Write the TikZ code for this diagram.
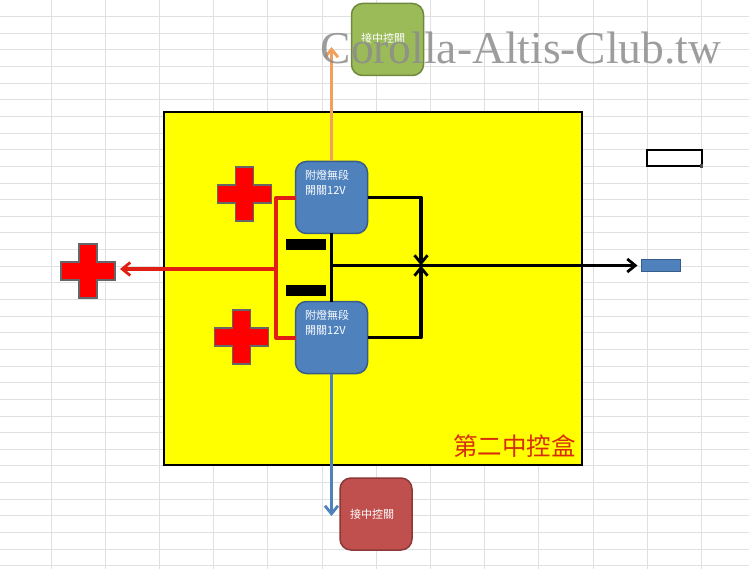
\documentclass[tikz,border=0pt]{standalone}
\usepackage{fontspec}
\setmainfont{Liberation Serif}
\newfontfamily\cjk{Noto Sans CJK TC}
\usetikzlibrary{arrows.meta}
\definecolor{sheet}{RGB}{222, 224, 226}
\definecolor{casefill}{RGB}{255, 255, 0}
\definecolor{plusred}{RGB}{255, 0, 0}
\definecolor{boxblue}{RGB}{79, 129, 189}
\definecolor{boxedge}{RGB}{56, 93, 138}
\definecolor{boxgreen}{RGB}{155, 187, 89}
\definecolor{greenedge}{RGB}{113, 137, 63}
\definecolor{boxred}{RGB}{192, 80, 77}
\definecolor{rededge}{RGB}{140, 56, 54}
\definecolor{wireorange}{RGB}{240, 160, 90}
\definecolor{wirered}{RGB}{225, 30, 20}
\definecolor{titlered}{RGB}{215, 45, 10}
\tikzset{
  switchbox/.style={draw, line width=1.5pt, rounded corners=11pt, minimum width=72pt, minimum height=72pt, outer sep=0pt},
  lampbox/.style={switchbox, draw=boxedge, fill=boxblue},
  boxtext/.style={inner sep=0pt, align=left, text=white, font=\cjk\fontsize{11}{15}\selectfont},
  wire/.style={line width=3.2pt, line join=round},
  tip/.style={-{Straight Barb[length=8pt, width=13pt, line width=2.8pt]}},
  bar/.style={fill=black, minimum width=40pt, minimum height=11pt, inner sep=0pt},
  plusmark/.pic={
    \fill[plusred, draw=black!60, line width=1.5pt] (-9,-27) -- (9,-27) -- (9,-9) -- (27,-9) -- (27,9) -- (9,9) -- (9,27) -- (-9,27) -- (-9,9) -- (-27,9) -- (-27,-9) -- (-9,-9) -- cycle;
  }
}
\begin{document}
\begin{tikzpicture}[x=1pt, y=-1pt]
      \useasboundingbox (0, 0) rectangle (749, 569);
      \fill[white] (0, 0) rectangle (749, 569);
      \foreach \k in {0, ..., 12} {
        \draw[sheet, line width=1pt] (51 + 54.2 * \k, 0) to (51 + 54.2 * \k, 569);
      }
      \foreach \k in {0, ..., 34} {
        \draw[sheet, line width=1pt] (0, 16.64 * \k) to (749, 16.64 * \k);
      }
      \node[draw, fill=casefill, line width=2.2pt, minimum width=418pt, minimum height=353pt, outer sep=0pt] (casebox) at (373, 288.5) {};
      \node[anchor=east, inner sep=0pt, text=titlered, font=\cjk\fontsize{24.5}{24.5}\selectfont] (casetitle) at (576, 446) {第二中控盒};
      \node[lampbox] (lampA) at (331.5, 197.5) {};
      \node[lampbox] (lampB) at (331.5, 337.5) {};
      \node[boxtext, anchor=north west] (lampAtext) at (305, 169.5) {附燈無段\\開關12V};
      \node[boxtext, anchor=north west] (lampBtext) at (305, 309.5) {附燈無段\\開關12V};
      \node[switchbox, draw=greenedge, fill=boxgreen] (swTop) at (387.5, 39.5) {};
      \node[switchbox, draw=rededge, fill=boxred] (swBottom) at (376, 514) {};
      \node[boxtext] (swToptext) at (383, 38) {接中控關};
      \node[boxtext] (swBottomtext) at (372, 514) {接中控關};
      \node[bar] (barA) at (306, 245) {};
      \node[bar] (barB) at (306, 290.5) {};
      \node[draw=boxedge, fill=boxblue, line width=1pt, minimum width=39pt, minimum height=11pt, inner sep=0pt] (minus) at (660.5, 265.5) {};
      \node[draw, line width=1.8pt, fill=white, minimum width=55pt, minimum height=16pt, inner sep=0pt] (cell) at (674.5, 158) {};
      \fill[black!70] (699.5, 164.5) rectangle (703, 168);
      \pic at (244.5, 194) {plusmark};
      \pic at (241.5, 337) {plusmark};
      \pic at (88, 271) {plusmark};
      \coordinate (redjoin) at (276, 269);
      \coordinate (plustip) at (120, 269);
      \coordinate (meet) at (421, 265.5);
      \coordinate (uptip) at (331.5, 47);
      \coordinate (downtip) at (331.5, 516);
      \draw[wire, wirered] (lampA.west |- 0, 198) -| (redjoin) |- (lampB.west |- 0, 338);
      \draw[wire, wirered, tip] (redjoin) to (plustip);
      \draw[wire, wireorange, tip] (lampA.north) to (uptip);
      \draw[wire, boxblue, tip] (lampB.south) to (downtip);
      \draw[wire] (lampA.south) to (lampB.north);
      \draw[wire, tip] (lampA.east) -| (meet);
      \draw[wire, tip] (lampB.east) -| (meet);
      \draw[wire, tip, shorten >=3pt] (lampA.south |- meet) to (minus.west);
      \node[text=black!45, opacity=0.85, inner sep=0pt, font=\fontsize{45.5}{45.5}\selectfont] (mark) at (521, 48) {Corolla-Altis-Club.tw};
    \end{tikzpicture}
\end{document}
